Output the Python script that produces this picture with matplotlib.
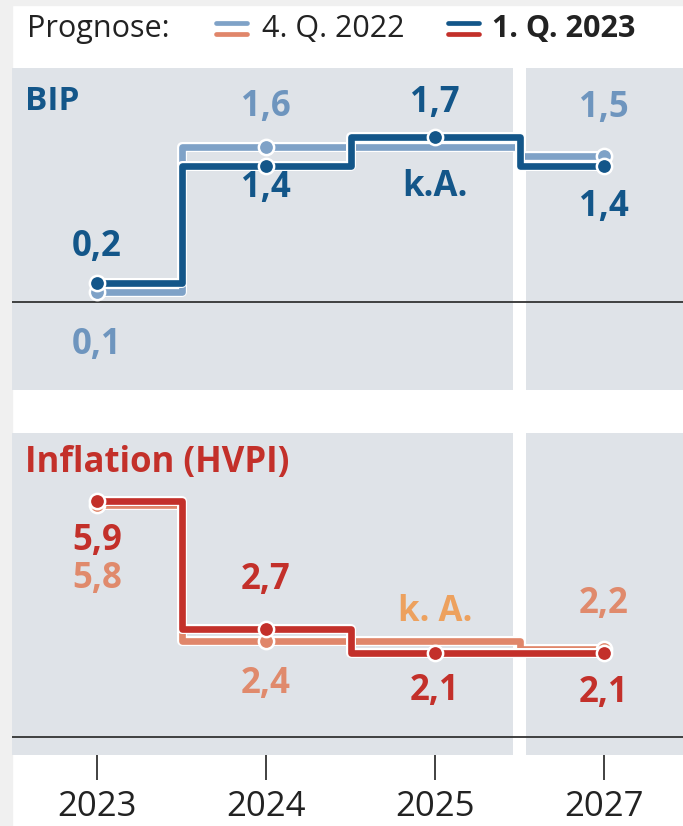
import numpy as np
import matplotlib
matplotlib.use('Agg')
import matplotlib.pyplot as plt
import matplotlib.patheffects as pe
from matplotlib.lines import Line2D
from matplotlib.patches import Rectangle

plt.rcParams['font.family'] = ['Open Sans', 'DejaVu Sans']

# Daten
jahre = ['2023', '2024', '2025', '2027']
bip_alt = [0.1, 1.6, None, 1.5]      # Prognose 4. Q. 2022 (None = k. A.)
bip_neu = [0.2, 1.4, 1.7, 1.4]       # Prognose 1. Q. 2023
hvpi_alt = [5.8, 2.4, None, 2.2]
hvpi_neu = [5.9, 2.7, 2.1, 2.1]

dunkelblau = '#135689'
hellblau = '#7FA2C7'
hellblau_txt = '#6E95BE'
dunkelrot = '#C3302A'
hellrot = '#E0866A'
hellrot_txt = '#E08A6C'
orange_txt = '#EDA15E'
grau_bg = '#DFE3E8'

W, H = 683, 826
fig = plt.figure(figsize=(W / 100, H / 100), dpi=100)
fig.patch.set_facecolor('white')


def px(x, y):
    return x / W, 1 - y / H


# Rand links/oben
fig.add_artist(Rectangle((0, 0), 12 / W, 1, transform=fig.transFigure, color='#F0F0F0', zorder=0))
fig.add_artist(Rectangle((0, 1 - 5 / H), 1, 5 / H, transform=fig.transFigure, color='#F0F0F0', zorder=0))


def ffill(werte):
    out = []
    last = None
    for v in werte:
        if v is None:
            v = last
        out.append(v)
        last = v
    return out


def panel(top, bottom, zero_y, scale):
    ax = fig.add_axes([12 / W, 1 - bottom / H, 671 / W, (bottom - top) / H])
    ax.set_facecolor(grau_bg)
    ax.set_xlim((12 - 97) / 169, (683 - 97) / 169)
    ax.set_ylim(-(bottom - zero_y) / scale, (zero_y - top) / scale)
    for s in ax.spines.values():
        s.set_visible(False)
    ax.axvspan(2.46, 2.54, color='white', zorder=0.5, lw=0)
    ax.axhline(0, color='#333333', lw=1.3, zorder=1)
    return ax


def serie(ax, werte, farbe, z):
    x = np.arange(len(werte))
    y = ffill(werte)
    ax.step(x, y, where='mid', color=farbe, lw=4.8, zorder=z, solid_capstyle='butt',
            path_effects=[pe.Stroke(linewidth=7.2, foreground='white'), pe.Normal()])
    xm = [i for i, v in enumerate(werte) if v is not None]
    ym = [v for v in werte if v is not None]
    ax.plot(xm, ym, 'o', color=farbe, ms=11, mec='white', mew=1.8, zorder=z + 0.5)


def label(ax, i, v, text, farbe, dy):
    ax.annotate(text, (i, v), xytext=(0, dy), textcoords='offset pixels',
                ha='center', va='center', fontsize=25, fontweight='bold', color=farbe, zorder=6)


def fmt(v):
    return f'{v:.1f}'.replace('.', ',')


# BIP
ax1 = panel(68, 390, 302, 97)
serie(ax1, bip_alt, hellblau, 3)
serie(ax1, bip_neu, dunkelblau, 4)
ax1.set_xticks([])
ax1.set_yticks([])
ax1.text(13 / 671, 1 - 33 / 322, 'BIP', transform=ax1.transAxes, fontsize=24,
         fontweight='bold', color=dunkelblau, ha='left', va='center')
off_alt = [-53, 40, None, 49]
off_neu = [36, -22, 34, -41]
for i in range(4):
    if bip_alt[i] is not None:
        label(ax1, i, bip_alt[i], fmt(bip_alt[i]), hellblau_txt, off_alt[i])
    label(ax1, i, bip_neu[i], fmt(bip_neu[i]), dunkelblau, off_neu[i])
label(ax1, 2, bip_neu[2], 'k.A.', dunkelblau, -50)

# Inflation
ax2 = panel(433, 755, 737, 40)
serie(ax2, hvpi_alt, hellrot, 3)
serie(ax2, hvpi_neu, dunkelrot, 4)
ax2.set_yticks([])
ax2.set_xticks(range(4))
ax2.set_xticklabels(jahre, fontsize=25, color='#222222')
ax2.tick_params(axis='x', direction='out', length=18, width=1.3, color='#333333', pad=7)
ax2.text(13 / 671, 1 - 30 / 322, 'Inflation (HVPI)', transform=ax2.transAxes, fontsize=25,
         fontweight='bold', color=dunkelrot, ha='left', va='center')
off_alt = [-74, -43, None, 45]
off_neu = [-40, 49, -38, -40]
for i in range(4):
    if hvpi_alt[i] is not None:
        label(ax2, i, hvpi_alt[i], fmt(hvpi_alt[i]), hellrot_txt, off_alt[i])
    label(ax2, i, hvpi_neu[i], fmt(hvpi_neu[i]), dunkelrot, off_neu[i])
label(ax2, 2, hvpi_neu[2], 'k. A.', orange_txt, 41)

# Legende
fig.text(*px(27, 37), 'Prognose:', fontsize=22, color='#222222', ha='left', va='baseline')
for x0, c1, c2 in [(216, hellblau, hellrot), (448, dunkelblau, dunkelrot)]:
    for yy, c in [(23, c1), (34, c2)]:
        fig.add_artist(Line2D([x0 / W, (x0 + 31) / W], [1 - yy / H, 1 - yy / H],
                              transform=fig.transFigure, color=c, lw=3.4, solid_capstyle='round'))
fig.text(*px(262, 37), '4. Q. 2022', fontsize=22, color='#222222', ha='left', va='baseline')
fig.text(*px(492, 37), '1. Q. 2023', fontsize=22, fontweight='bold', color='#222222',
         ha='left', va='baseline')

fig.savefig('out.png', dpi=100)
